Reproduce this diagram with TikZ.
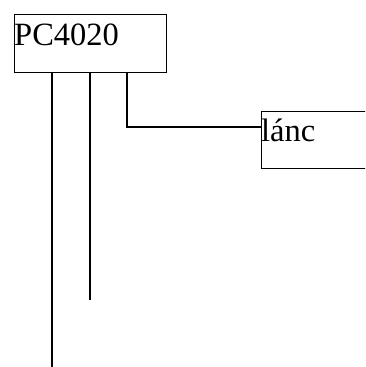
\documentclass[tikz,border=0pt]{standalone}
\usepackage{fontspec}
\setmainfont{Liberation Serif}
\begin{document}
\begin{tikzpicture}[x=1pt,y=1pt,
  boxstyle/.style={draw=black, line width=1.4pt, rectangle, inner sep=0pt, anchor=north west},
  lbl/.style={anchor=base west, inner sep=0pt, font=\fontsize{32.5}{38}\selectfont},
  wire/.style={draw=black, line width=1.4pt}]
\useasboundingbox (0,0) rectangle (365,-367);
\clip (0,0) rectangle (365,-367);
\node[boxstyle, minimum width=152.5pt, minimum height=57.5pt] (pc) at (13.5,-14) {};
\node[lbl] (pct) at (14,-45) {PC4020};
\node[boxstyle, minimum width=120pt, minimum height=57.5pt] (lanc) at (260.5,-110.5) {};
\node[lbl] (lanct) at (261,-141.5) {lánc};
\coordinate (e1) at (52,-367);
\coordinate (e2) at (90,-300);
\coordinate (bend) at (127,-127);
\draw[wire] (pc.south west -| e1) -- (e1);
\draw[wire] (pc.south west -| e2) -- (e2);
\draw[wire] (pc.south west -| bend) -- (bend) -- (bend -| lanc.west);
\end{tikzpicture}
\end{document}
